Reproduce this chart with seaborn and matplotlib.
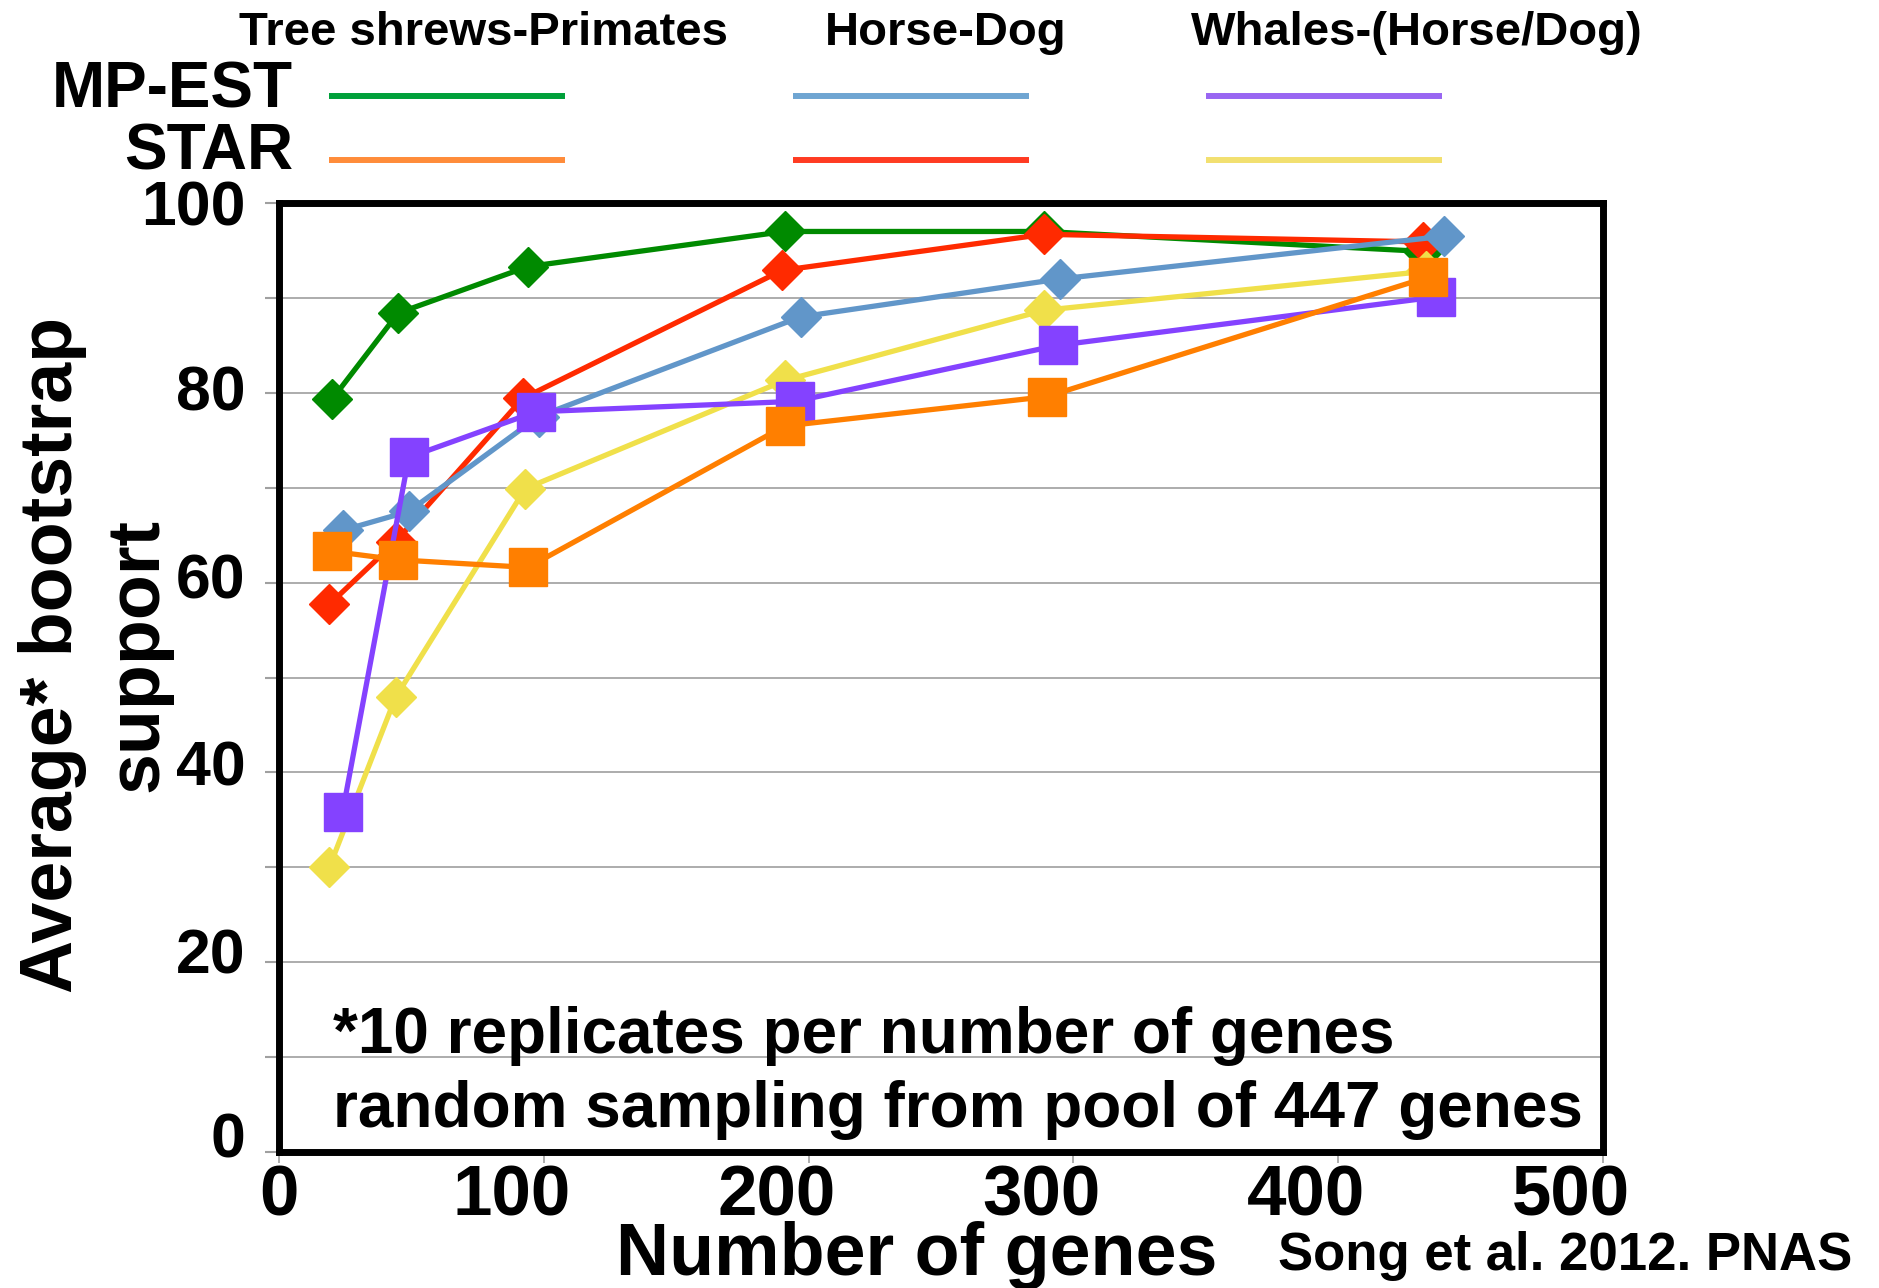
import matplotlib
matplotlib.use("Agg")
import matplotlib.pyplot as plt
from matplotlib.lines import Line2D
from matplotlib.transforms import ScaledTranslation
import numpy as np
import pandas as pd
import seaborn as sns

# ---- data: average bootstrap support vs. number of genes ----
methods = ["MP-EST", "STAR"]
clades = ["Tree shrews-Primates", "Horse-Dog", "Whales-(Horse/Dog)"]

mpest_tree_x = [20, 45, 94, 191, 289, 432]
mpest_tree_y = [79.3, 88.4, 93.3, 97.0, 97.0, 94.9]

star_horse_x = [19, 44, 92, 190, 289, 432]
star_horse_y = [57.7, 64.3, 79.4, 92.9, 96.7, 95.9]

mpest_horse_x = [24, 49, 98, 197, 295, 440]
mpest_horse_y = [65.5, 67.5, 77.5, 88.0, 92.0, 96.5]

star_whale_x = [19, 44, 93, 191, 289, 433]
star_whale_y = [30.0, 47.9, 69.9, 81.3, 88.7, 92.8]

mpest_whale_x = [24, 49, 97, 195, 294, 437]
mpest_whale_y = [35.8, 73.2, 78.0, 79.1, 85.0, 90.1]

star_tree_x = [20, 45, 94, 191, 290, 434]
star_tree_y = [63.3, 62.4, 61.6, 76.5, 79.6, 92.2]

x_ticks = [0, 100, 200, 300, 400, 500]
y_ticks = [0, 20, 40, 60, 80, 100]

note_lines = ["*10 replicates per number of genes",
              "random sampling from pool of 447 genes"]
citation = "Song et al. 2012. PNAS"

# drawing order (bottom to top)
series = [
    ("MP-EST", "Tree shrews-Primates", mpest_tree_x, mpest_tree_y),
    ("STAR", "Horse-Dog", star_horse_x, star_horse_y),
    ("MP-EST", "Horse-Dog", mpest_horse_x, mpest_horse_y),
    ("STAR", "Whales-(Horse/Dog)", star_whale_x, star_whale_y),
    ("MP-EST", "Whales-(Horse/Dog)", mpest_whale_x, mpest_whale_y),
    ("STAR", "Tree shrews-Primates", star_tree_x, star_tree_y),
]

rows = []
for m, c, xs, ys in series:
    for xv, yv in zip(xs, ys):
        rows.append({"series": f"{m} {c}", "method": m, "clade": c,
                     "genes": xv, "support": yv})
df = pd.DataFrame(rows)
order = [f"{m} {c}" for m, c, _, _ in series]

line_colors = {
    "MP-EST Tree shrews-Primates": "#008A00",
    "STAR Horse-Dog": "#FF2A00",
    "MP-EST Horse-Dog": "#6196C9",
    "STAR Whales-(Horse/Dog)": "#F0E04A",
    "MP-EST Whales-(Horse/Dog)": "#8442FF",
    "STAR Tree shrews-Primates": "#FF7F00",
}
key_colors = {
    "MP-EST Tree shrews-Primates": "#00A03A",
    "STAR Horse-Dog": "#FF3B22",
    "MP-EST Horse-Dog": "#6FA5D2",
    "STAR Whales-(Horse/Dog)": "#F2E070",
    "MP-EST Whales-(Horse/Dog)": "#9966F2",
    "STAR Tree shrews-Primates": "#FF8C3A",
}
marker_map = {s: ("s" if s in ("MP-EST Whales-(Horse/Dog)",
                               "STAR Tree shrews-Primates") else "D")
              for s in order}

# ---- figure ----
W, H, DPI = 1879, 1288, 100
sns.set_theme(style="white")
plt.rcParams["font.family"] = ["Liberation Sans", "DejaVu Sans"]
plt.rcParams["font.weight"] = "bold"
for key in ("text.color", "axes.labelcolor", "xtick.labelcolor",
            "ytick.labelcolor"):
    plt.rcParams[key] = "black"

fig = plt.figure(figsize=(W / DPI, H / DPI), dpi=DPI)
fig.patch.set_facecolor("white")
ax = fig.add_axes([279 / W, 1 - 1152 / H, (1603 - 279) / W, (1152 - 203) / H])

sns.lineplot(data=df, x="genes", y="support", hue="series", style="series",
             hue_order=order, style_order=order, palette=line_colors,
             markers=marker_map, dashes=False, sort=False, estimator=None,
             legend=False, linewidth=3.8, ax=ax)

for ln in ax.lines:
    ln.set_markeredgecolor(ln.get_color())
    ln.set_markeredgewidth(1.0)
    ln.set_markersize(20 if ln.get_marker() == "D" else 28)

ax.set_xlim(0, 500)
ax.set_ylim(0, 100)
ax.set_xticks(x_ticks)
ax.set_xticklabels([str(v) for v in x_ticks])
ax.set_yticks(y_ticks)
ax.set_yticklabels([str(v) for v in y_ticks])
ax.set_yticks([10, 30, 50, 70, 90], minor=True)

ax.grid(False)
ax.yaxis.grid(True, which="both", color="#A6A6A6", linewidth=1.3)
ax.set_axisbelow(True)
for sp in ax.spines.values():
    sp.set_visible(True)
    sp.set_color("black")
    sp.set_linewidth(5)

ax.tick_params(axis="x", which="major", bottom=True, direction="out",
               length=8, width=1.2, color="#A0A0A0", labelcolor="black",
               pad=1, labelsize=51)
ax.tick_params(axis="y", which="both", left=True, direction="out",
               length=10, width=1.5, color="#A0A0A0", labelcolor="black",
               pad=14, labelsize=45)

# tick-label nudges (pixels)
for i, lab in enumerate(ax.get_xticklabels()):
    dx = 0 if i == 0 else -32
    lab.set_transform(lab.get_transform() +
                      ScaledTranslation(dx / DPI, 0, fig.dpi_scale_trans))
for lab, dy in zip(ax.get_yticklabels(), [17, 12, 10, 7, 5, 1]):
    lab.set_transform(lab.get_transform() +
                      ScaledTranslation(0, dy / DPI, fig.dpi_scale_trans))

ax.set_xlabel("Number of genes", fontsize=53, fontweight="bold",
              va="baseline", color="black")
ax.xaxis.set_label_coords(0.482, -0.1296)
ax.set_ylabel("Average* bootstrap\nsupport", fontsize=53, fontweight="bold",
              linespacing=1.3, color="black")
ax.yaxis.set_label_coords(-0.0808, 0.5237)

for txt, yb in zip(note_lines, [0.1043, 0.0263]):
    ax.text(0.0408, yb, txt, transform=ax.transAxes, fontsize=46,
            fontweight="bold", ha="left", va="baseline", color="black")

fig.text(1278 / W, 1 - 1270 / H, citation, fontsize=38, fontweight="bold",
         ha="left", va="baseline", color="black")

# ---- key at the top: clades across, methods down ----
col_center = [483, 946, 1417]
col_span = [(329, 565), (793, 1029), (1206, 1442)]
row_base = [108, 170]
row_line = [96, 160]
for c, cx in zip(clades, col_center):
    fig.text(cx / W, 1 - 45 / H, c, fontsize=34, fontweight="bold",
             ha="center", va="baseline", color="black")
for r, m in enumerate(methods):
    fig.text(293 / W, 1 - row_base[r] / H, m, fontsize=46, fontweight="bold",
             ha="right", va="baseline", color="black")
    for c, (x0, x1) in zip(clades, col_span):
        fig.add_artist(Line2D([x0 / W, x1 / W],
                              [1 - row_line[r] / H, 1 - row_line[r] / H],
                              transform=fig.transFigure,
                              color=key_colors[f"{m} {c}"], linewidth=4.3,
                              solid_capstyle="butt"))

fig.savefig("out.png", dpi=DPI, facecolor="white")
